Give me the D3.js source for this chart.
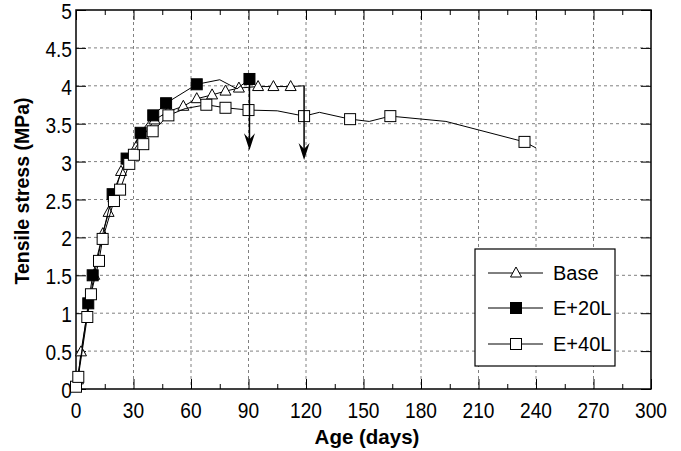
<!DOCTYPE html>
<html>
<head>
<meta charset="utf-8">
<script src="https://cdn.jsdelivr.net/npm/d3@7"></script>
<style>
  html, body { margin: 0; padding: 0; background: #fff; }
  svg { display: block; }
  text { font-family: "Liberation Sans", Arial, Helvetica, sans-serif; fill: #000; }
</style>
</head>
<body>
<svg id="chart" width="681" height="451"></svg>
<script>
// ---- data (day, stress MPa, marker shown 1/0) ----
const baseData = [
  [1, 0.12, 1], [2.6, 0.49, 1], [6.5, 1.1, 0], [9.5, 1.5, 1], [14, 2.05, 1], [17, 2.33, 1],
  [19.5, 2.52, 1], [23.5, 2.87, 1], [27, 3.02, 1], [34, 3.3, 1], [41, 3.55, 1], [48, 3.66, 1],
  [56, 3.73, 1], [63, 3.83, 1], [71, 3.88, 1], [78, 3.93, 1], [85, 3.97, 1], [95, 3.99, 1],
  [103, 3.99, 1], [112, 3.99, 1], [119, 4.0, 0]
];
const e20Data = [
  [0.5, 0.1, 0], [3, 0.5, 0], [6.4, 1.13, 1], [8.7, 1.5, 1], [13.5, 2.0, 0], [19.1, 2.57, 1],
  [26.4, 3.04, 1], [33.7, 3.38, 1], [40.3, 3.61, 1], [47, 3.77, 1], [63, 4.02, 1],
  [75, 4.08, 0], [84, 3.96, 0], [90.5, 4.09, 1]
];
const e40Data = [
  [0, 0.03, 1], [1.2, 0.16, 1], [5.9, 0.95, 1], [7.8, 1.25, 1], [12, 1.69, 1], [13.9, 1.98, 1],
  [19.8, 2.48, 1], [23, 2.63, 1], [27.8, 2.97, 1], [30.2, 3.09, 1], [35.1, 3.23, 1], [40, 3.4, 1],
  [48.2, 3.61, 1], [57, 3.7, 0], [68, 3.75, 1], [78, 3.71, 1], [90, 3.68, 1], [105, 3.67, 0],
  [119, 3.6, 1], [127, 3.65, 0], [143, 3.56, 1], [153, 3.53, 0], [164, 3.6, 1], [193, 3.53, 0],
  [234, 3.26, 1], [240, 3.18, 0]
];
// arrows: day, from stress, to stress
const arrowData = [[90.5, 4.09, 3.15], [119, 4.0, 3.02]];
const xTicks = [0, 30, 60, 90, 120, 150, 180, 210, 240, 270, 300];
const xMinor = [15, 45, 75, 105, 135, 165, 195, 225, 255, 285];
const yTicks = [0, 0.5, 1, 1.5, 2, 2.5, 3, 3.5, 4, 4.5, 5];
const yTickLabels = ["0", "0.5", "1", "1.5", "2", "2.5", "3", "3.5", "4", "4.5", "5"];
const seriesNames = ["Base", "E+20L", "E+40L"];
const seriesShapes = ["triangle", "filled", "square"];
const xTitle = "Age (days)";
const yTitle = "Tensile stress (MPa)";

// ---- layout ----
const L = 76, R = 651, T = 10, B = 389;
const svg = d3.select("#chart");
const x = d3.scaleLinear().domain([0, 300]).range([L, R]);
const y = d3.scaleLinear().domain([0, 5]).range([B, T]);

// grid
const grid = svg.append("g").attr("stroke", "#808080").attr("stroke-width", 1)
  .attr("stroke-dasharray", "3,3").attr("fill", "none");
xTicks.slice(1, -1).forEach(t => grid.append("line")
  .attr("x1", x(t)).attr("x2", x(t)).attr("y1", T).attr("y2", B));
yTicks.slice(1, -1).forEach(t => grid.append("line")
  .attr("x1", L).attr("x2", R).attr("y1", y(t)).attr("y2", y(t)));

// axes with inward ticks
const axB = d3.axisBottom(x).tickValues(xTicks).tickSize(-10).tickFormat("");
const axT = d3.axisTop(x).tickValues(xTicks).tickSize(-10).tickFormat("");
const axBm = d3.axisBottom(x).tickValues(xMinor).tickSize(-5).tickFormat("");
const axTm = d3.axisTop(x).tickValues(xMinor).tickSize(-5).tickFormat("");
const axL = d3.axisLeft(y).tickValues(yTicks).tickSize(-10).tickFormat("");
const axR = d3.axisRight(y).tickValues(yTicks).tickSize(-10).tickFormat("");
[[axB, `translate(0,${B})`], [axT, `translate(0,${T})`], [axBm, `translate(0,${B})`],
 [axTm, `translate(0,${T})`], [axL, `translate(${L},0)`], [axR, `translate(${R},0)`]]
  .forEach(([a, tr]) => {
    const g = svg.append("g").attr("transform", tr).call(a);
    g.select(".domain").remove();
    g.selectAll("line").attr("stroke", "#000").attr("stroke-width", 1);
  });
svg.append("rect").attr("x", L).attr("y", T).attr("width", R - L).attr("height", B - T)
  .attr("fill", "none").attr("stroke", "#000").attr("stroke-width", 1.5);

// tick labels
xTicks.forEach(t => svg.append("text")
  .attr("transform", `translate(${x(t)},${418}) scale(0.87,1)`)
  .attr("text-anchor", "middle").attr("font-size", 22).text(t));
yTicks.forEach((t, i) => svg.append("text")
  .attr("transform", `translate(72,${y(t) + 9}) scale(0.87,1)`)
  .attr("text-anchor", "end").attr("font-size", 22).text(yTickLabels[i]));

// titles
svg.append("text").attr("x", 367).attr("y", 444).attr("text-anchor", "middle")
  .attr("font-size", 20.5).attr("font-weight", "bold").text(xTitle);
svg.append("text").attr("transform", `translate(29,191) rotate(-90)`)
  .attr("text-anchor", "middle").attr("font-size", 19.5).attr("font-weight", "bold").text(yTitle);

// markers
function drawMarker(g, shape, cx, cy) {
  if (shape === "triangle") {
    g.append("path").attr("d", `M${cx},${cy - 6} L${cx + 5.5},${cy + 4} L${cx - 5.5},${cy + 4} Z`)
      .attr("fill", "#fff").attr("stroke", "#000").attr("stroke-width", 1);
  } else {
    g.append("rect").attr("x", cx - 5.5).attr("y", cy - 5.5).attr("width", 11).attr("height", 11)
      .attr("fill", shape === "filled" ? "#000" : "#fff").attr("stroke", "#000").attr("stroke-width", 1);
  }
}

const line = d3.line().x(d => x(d[0])).y(d => y(d[1]));
const allSeries = [baseData, e20Data, e40Data];
allSeries.forEach((data, i) => {
  const g = svg.append("g");
  g.append("path").attr("d", line(data)).attr("fill", "none").attr("stroke", "#000").attr("stroke-width", 1);
  data.filter(d => d[2]).forEach(d => drawMarker(g, seriesShapes[i], x(d[0]), y(d[1])));
});

// arrows
arrowData.forEach(a => {
  const ax = x(a[0]), y0 = y(a[1]), y1 = y(a[2]);
  svg.append("line").attr("x1", ax).attr("x2", ax).attr("y1", y0).attr("y2", y1 - 6)
    .attr("stroke", "#000").attr("stroke-width", 1.5);
  svg.append("path").attr("d", `M${ax},${y1} L${ax - 5.5},${y1 - 17} L${ax},${y1 - 11} L${ax + 5.5},${y1 - 17} Z`)
    .attr("fill", "#000");
});

// legend
const lg = svg.append("g");
lg.append("rect").attr("x", 475).attr("y", 249).attr("width", 140).attr("height", 117)
  .attr("fill", "#fff").attr("stroke", "#000").attr("stroke-width", 1.2);
const rowsY = [273, 308, 344];
seriesNames.forEach((n, i) => {
  lg.append("line").attr("x1", 488).attr("x2", 543).attr("y1", rowsY[i]).attr("y2", rowsY[i])
    .attr("stroke", "#000").attr("stroke-width", 1);
  drawMarker(lg, seriesShapes[i], 516, rowsY[i]);
  lg.append("text").attr("x", 553).attr("y", rowsY[i] + 7).attr("font-size", 20).text(n);
});
</script>
</body>
</html>
